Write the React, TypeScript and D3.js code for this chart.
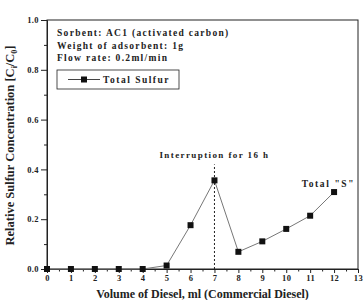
import { useEffect, useRef } from "react";
import * as d3 from "d3";

// volume of diesel (ml) vs relative sulfur concentration
const volumes = [0, 1, 2, 3, 4, 5, 6, 7, 8, 9, 10, 11, 12];
const totalSulfur = [0, 0, 0, 0, 0, 0.014, 0.176, 0.356, 0.069, 0.111, 0.161, 0.214, 0.309];
const xTicks = [0, 1, 2, 3, 4, 5, 6, 7, 8, 9, 10, 11, 12, 13];
const yTicks = [0, 0.2, 0.4, 0.6, 0.8, 1.0];
const infoLines = ["Sorbent: AC1 (activated carbon)", "Weight of adsorbent: 1g", "Flow rate: 0.2ml/min"];
const interruptAt = 7;
const interruptTop = 0.42;

const FONT = "'Liberation Serif', 'Times New Roman', serif";

const App = () => {
  const svgRef = useRef<SVGSVGElement>(null);

  useEffect(() => {
    const svg = d3.select(svgRef.current);
    svg.selectAll("*").remove();

    const margin = { top: 20, right: 5, bottom: 31, left: 47 };
    const width = 363 - margin.left - margin.right;
    const height = 300 - margin.top - margin.bottom;

    const x = d3.scaleLinear().domain([0, 13]).range([0, width]);
    const y = d3.scaleLinear().domain([0, 1]).range([height, 0]);

    const g = svg.append("g").attr("transform", `translate(${margin.left},${margin.top})`);

    // frame
    g.append("rect")
      .attr("width", width)
      .attr("height", height)
      .attr("fill", "none")
      .attr("stroke", "#222")
      .attr("stroke-width", 1);

    // minor ticks
    const xMinor = d3.range(0.5, 13, 1);
    g.append("g")
      .attr("transform", `translate(0,${height})`)
      .call(d3.axisBottom(x).tickValues(xMinor).tickSize(2.5).tickFormat(() => ""))
      .call((a) => a.select(".domain").remove());
    const yMinor = d3.range(0.1, 1, 0.2);
    g.append("g")
      .call(d3.axisLeft(y).tickValues(yMinor).tickSize(3).tickFormat(() => ""))
      .call((a) => a.select(".domain").remove());

    // major axes
    const xAxis = g
      .append("g")
      .attr("transform", `translate(0,${height})`)
      .call(d3.axisBottom(x).tickValues(xTicks).tickSize(4).tickPadding(2).tickFormat(d3.format("d")));
    const yAxis = g
      .append("g")
      .call(d3.axisLeft(y).tickValues(yTicks).tickSize(6).tickPadding(2).tickFormat(d3.format(".1f")));

    [xAxis, yAxis].forEach((a) => {
      a.select(".domain").attr("stroke", "#222");
      a.selectAll("text")
        .attr("font-family", FONT)
        .attr("font-weight", "bold")
        .attr("font-size", 8.5)
        .attr("letter-spacing", 0.4)
        .attr("fill", "#222");
    });

    g.selectAll(".tick line").attr("stroke", "#222");

    // dashed interruption line
    g.append("line")
      .attr("x1", x(interruptAt))
      .attr("x2", x(interruptAt))
      .attr("y1", y(0))
      .attr("y2", y(interruptTop))
      .attr("stroke", "#222")
      .attr("stroke-dasharray", "2,2");

    g.append("text")
      .attr("x", x(interruptAt))
      .attr("y", y(interruptTop) - 6)
      .attr("text-anchor", "middle")
      .attr("font-family", FONT)
      .attr("font-weight", "bold")
      .attr("font-size", 9)
      .attr("letter-spacing", 1.4)
      .attr("fill", "#222")
      .text("Interruption for 16 h");

    const pts = volumes.map((v, i) => [v, totalSulfur[i]] as [number, number]);

    const line = d3
      .line<[number, number]>()
      .x((d) => x(d[0]))
      .y((d) => y(d[1]));

    g.append("path")
      .datum(pts)
      .attr("d", line)
      .attr("fill", "none")
      .attr("stroke", "#777")
      .attr("stroke-width", 1);

    g.selectAll(".pt")
      .data(pts)
      .join("rect")
      .attr("class", "pt")
      .attr("x", (d) => x(d[0]) - 3)
      .attr("y", (d) => y(d[1]) - 3)
      .attr("width", 6)
      .attr("height", 6)
      .attr("fill", "#111");

    const last = pts[pts.length - 1];
    g.append("text")
      .attr("x", x(last[0]) + 21)
      .attr("y", y(last[1]) - 5)
      .attr("text-anchor", "end")
      .attr("font-family", FONT)
      .attr("font-weight", "bold")
      .attr("font-size", 9.5)
      .attr("letter-spacing", 1.6)
      .attr("fill", "#222")
      .text('Total "S"');

    // info text
    g.append("g")
      .selectAll("text")
      .data(infoLines)
      .join("text")
      .attr("x", 10)
      .attr("y", (d, i) => 16 + i * 12.5)
      .attr("font-family", FONT)
      .attr("font-weight", "bold")
      .attr("font-size", 9.5)
      .attr("letter-spacing", 1.3)
      .attr("fill", "#222")
      .text((d) => d);

    // legend
    const lg = g.append("g").attr("transform", "translate(10,50)");
    lg.append("rect")
      .attr("width", 122)
      .attr("height", 19)
      .attr("fill", "none")
      .attr("stroke", "#222")
      .attr("stroke-width", 0.8);
    lg.append("line")
      .attr("x1", 11)
      .attr("x2", 43)
      .attr("y1", 9.5)
      .attr("y2", 9.5)
      .attr("stroke", "#444");
    lg.append("rect").attr("x", 24).attr("y", 6.5).attr("width", 6).attr("height", 6).attr("fill", "#111");
    lg.append("text")
      .attr("x", 46)
      .attr("y", 13)
      .attr("font-family", FONT)
      .attr("font-weight", "bold")
      .attr("font-size", 9.5)
      .attr("letter-spacing", 1.5)
      .attr("fill", "#222")
      .text("Total Sulfur");

    // axis titles
    g.append("text")
      .attr("x", width / 2)
      .attr("y", height + 29)
      .attr("text-anchor", "middle")
      .attr("font-family", FONT)
      .attr("font-weight", "bold")
      .attr("font-size", 12)
      .attr("fill", "#222")
      .text("Volume of Diesel, ml (Commercial Diesel)");

    const yl = g
      .append("text")
      .attr("transform", `translate(${-33},${height / 2 + 1}) rotate(-90)`)
      .attr("text-anchor", "middle")
      .attr("font-family", FONT)
      .attr("font-weight", "bold")
      .attr("font-size", 12.5)
      .attr("fill", "#222");
    yl.append("tspan").text("Relative Sulfur Concentration [C");
    yl.append("tspan").attr("font-size", 8).attr("dy", 3).text("i");
    yl.append("tspan").attr("dy", -3).text("/C");
    yl.append("tspan").attr("font-size", 8).attr("dy", 3).text("0");
    yl.append("tspan").attr("dy", -3).text("]");
  }, []);

  return (
    <div style={{ position: "absolute", left: 0, top: 0 }}>
      <svg ref={svgRef} width={363} height={300} style={{ display: "block", background: "#fff" }} />
    </div>
  );
};

export default App;
